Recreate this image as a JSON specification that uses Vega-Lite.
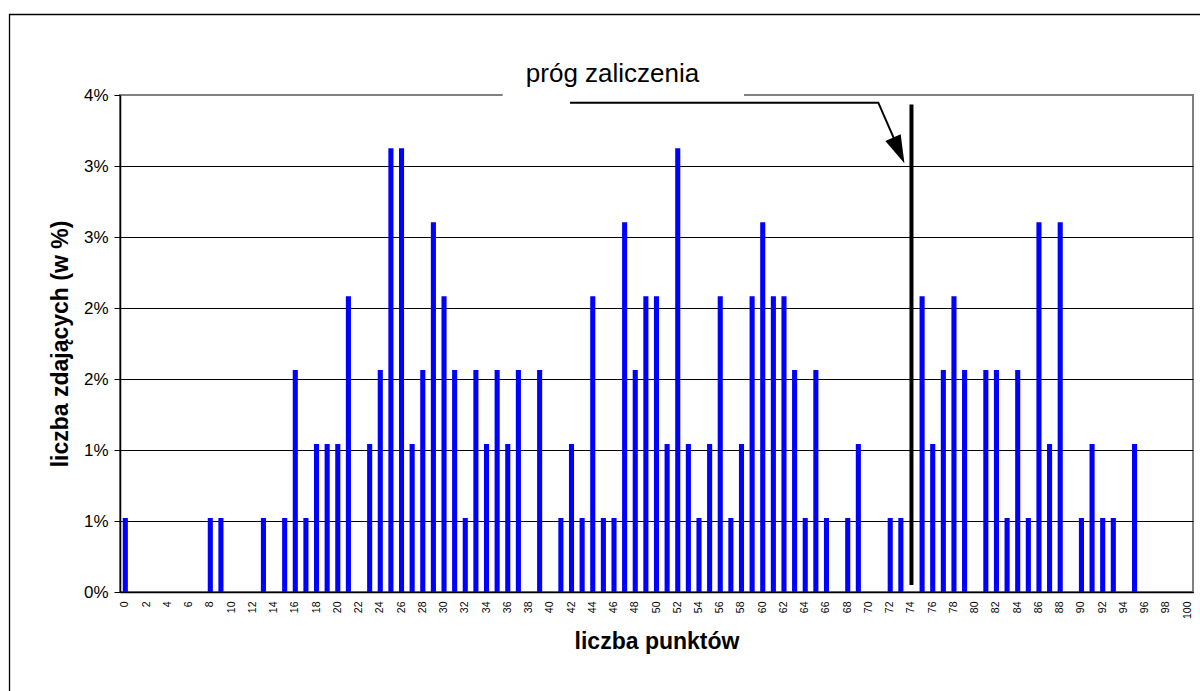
{
  "$schema": "https://vega.github.io/schema/vega-lite/v6.json",
  "width": 1073,
  "height": 497,
  "autosize": {"type": "none"},
  "padding": {"left": 120, "top": 95, "right": 7, "bottom": 99},
  "background": "white",
  "config": {
    "font": "Liberation Sans",
    "view": {"stroke": "#808080", "strokeWidth": 2},
    "axis": {"labelFont": "Liberation Sans", "titleFont": "Liberation Sans", "labelColor": "#000000", "titleColor": "#000000"}
  },
  "datasets": {
    "wyniki": [
      {"punkty": 0, "procent": 0.521}, {"punkty": 1, "procent": 0}, {"punkty": 2, "procent": 0}, {"punkty": 3, "procent": 0},
      {"punkty": 4, "procent": 0}, {"punkty": 5, "procent": 0}, {"punkty": 6, "procent": 0}, {"punkty": 7, "procent": 0},
      {"punkty": 8, "procent": 0.521}, {"punkty": 9, "procent": 0.521}, {"punkty": 10, "procent": 0}, {"punkty": 11, "procent": 0},
      {"punkty": 12, "procent": 0}, {"punkty": 13, "procent": 0.521}, {"punkty": 14, "procent": 0}, {"punkty": 15, "procent": 0.521},
      {"punkty": 16, "procent": 1.563}, {"punkty": 17, "procent": 0.521}, {"punkty": 18, "procent": 1.042}, {"punkty": 19, "procent": 1.042},
      {"punkty": 20, "procent": 1.042}, {"punkty": 21, "procent": 2.083}, {"punkty": 22, "procent": 0}, {"punkty": 23, "procent": 1.042},
      {"punkty": 24, "procent": 1.563}, {"punkty": 25, "procent": 3.125}, {"punkty": 26, "procent": 3.125}, {"punkty": 27, "procent": 1.042},
      {"punkty": 28, "procent": 1.563}, {"punkty": 29, "procent": 2.604}, {"punkty": 30, "procent": 2.083}, {"punkty": 31, "procent": 1.563},
      {"punkty": 32, "procent": 0.521}, {"punkty": 33, "procent": 1.563}, {"punkty": 34, "procent": 1.042}, {"punkty": 35, "procent": 1.563},
      {"punkty": 36, "procent": 1.042}, {"punkty": 37, "procent": 1.563}, {"punkty": 38, "procent": 0}, {"punkty": 39, "procent": 1.563},
      {"punkty": 40, "procent": 0}, {"punkty": 41, "procent": 0.521}, {"punkty": 42, "procent": 1.042}, {"punkty": 43, "procent": 0.521},
      {"punkty": 44, "procent": 2.083}, {"punkty": 45, "procent": 0.521}, {"punkty": 46, "procent": 0.521}, {"punkty": 47, "procent": 2.604},
      {"punkty": 48, "procent": 1.563}, {"punkty": 49, "procent": 2.083}, {"punkty": 50, "procent": 2.083}, {"punkty": 51, "procent": 1.042},
      {"punkty": 52, "procent": 3.125}, {"punkty": 53, "procent": 1.042}, {"punkty": 54, "procent": 0.521}, {"punkty": 55, "procent": 1.042},
      {"punkty": 56, "procent": 2.083}, {"punkty": 57, "procent": 0.521}, {"punkty": 58, "procent": 1.042}, {"punkty": 59, "procent": 2.083},
      {"punkty": 60, "procent": 2.604}, {"punkty": 61, "procent": 2.083}, {"punkty": 62, "procent": 2.083}, {"punkty": 63, "procent": 1.563},
      {"punkty": 64, "procent": 0.521}, {"punkty": 65, "procent": 1.563}, {"punkty": 66, "procent": 0.521}, {"punkty": 67, "procent": 0},
      {"punkty": 68, "procent": 0.521}, {"punkty": 69, "procent": 1.042}, {"punkty": 70, "procent": 0}, {"punkty": 71, "procent": 0},
      {"punkty": 72, "procent": 0.521}, {"punkty": 73, "procent": 0.521}, {"punkty": 74, "procent": 0}, {"punkty": 75, "procent": 2.083},
      {"punkty": 76, "procent": 1.042}, {"punkty": 77, "procent": 1.563}, {"punkty": 78, "procent": 2.083}, {"punkty": 79, "procent": 1.563},
      {"punkty": 80, "procent": 0}, {"punkty": 81, "procent": 1.563}, {"punkty": 82, "procent": 1.563}, {"punkty": 83, "procent": 0.521},
      {"punkty": 84, "procent": 1.563}, {"punkty": 85, "procent": 0.521}, {"punkty": 86, "procent": 2.604}, {"punkty": 87, "procent": 1.042},
      {"punkty": 88, "procent": 2.604}, {"punkty": 89, "procent": 0}, {"punkty": 90, "procent": 0.521}, {"punkty": 91, "procent": 1.042},
      {"punkty": 92, "procent": 0.521}, {"punkty": 93, "procent": 0.521}, {"punkty": 94, "procent": 0}, {"punkty": 95, "procent": 1.042},
      {"punkty": 96, "procent": 0}, {"punkty": 97, "procent": 0}, {"punkty": 98, "procent": 0}, {"punkty": 99, "procent": 0},
      {"punkty": 100, "procent": 0}
    ],
    "prog": [{"punkty": 74, "procent": 0.05, "do": 3.433}],
    "ramka": [{"x": -10.9, "x2": 103, "procent": -0.9, "y2": 4.067}],
    "tlo": [{"x": 35.52, "x2": 58.24, "procent": 3.48, "y2": 3.75}],
    "napis": [{"x": 45.86, "procent": 3.594, "tekst": "próg zaliczenia"}],
    "linia": [
      {"x": 41.86, "procent": 3.446, "kolejnosc": 1},
      {"x": 70.88, "procent": 3.446, "kolejnosc": 2},
      {"x": 72.9, "procent": 3.1, "kolejnosc": 3}
    ],
    "grot": [{"x": 72.8, "procent": 3.11}]
  },
  "layer": [
    {
      "layer": [
        {
          "data": {"name": "wyniki"},
          "mark": {"type": "bar", "color": "#0000FF"},
          "encoding": {
            "x": {
              "field": "punkty", "type": "ordinal",
              "scale": {"paddingInner": 0.52, "paddingOuter": 0.26},
              "axis": {
                "orient": "bottom",
                "values": [0,2,4,6,8,10,12,14,16,18,20,22,24,26,28,30,32,34,36,38,40,42,44,46,48,50,52,54,56,58,60,62,64,66,68,70,72,74,76,78,80,82,84,86,88,90,92,94,96,98,100],
                "labelAngle": 270,
                "labelFontSize": 10.5,
                "labelPadding": 9,
                "ticks": false,
                "tickSize": 0,
                "domainColor": "#000000",
                "domainWidth": 1.5,
                "grid": false,
                "title": "liczba punktów",
                "titleFontSize": 23,
                "titleFontWeight": "bold",
                "titlePadding": 12
              }
            },
            "y": {
              "field": "procent", "type": "quantitative",
              "scale": {"domain": [0, 3.5], "nice": false, "zero": true},
              "axis": {
                "values": [0, 0.5, 1, 1.5, 2, 2.5, 3, 3.5],
                "labelExpr": "round(datum.value + 0.01) + '%'",
                "labelFontSize": 17,
                "labelPadding": 6,
                "tickSize": 6,
                "tickColor": "#000000",
                "domainColor": "#000000",
                "domainWidth": 1.5,
                "grid": true,
                "gridColor": {"condition": {"test": "datum.value > 3.4", "value": "#808080"}, "value": "#000000"},
                "gridWidth": 1,
                "title": "liczba zdających (w %)",
                "titleFontSize": 23,
                "titleFontWeight": "bold",
                "titlePadding": 11
              }
            }
          }
        },
        {
          "data": {"name": "prog"},
          "mark": {"type": "rule", "color": "#000000", "strokeWidth": 4},
          "encoding": {
            "x": {"field": "punkty", "type": "ordinal"},
            "y": {"field": "procent", "type": "quantitative"},
            "y2": {"field": "do"}
          }
        }
      ]
    },
    {
      "layer": [
        {
          "data": {"name": "ramka"},
          "mark": {"type": "rect", "fillOpacity": 0, "stroke": "#000000", "strokeWidth": 1.3, "clip": false},
          "encoding": {
            "x": {"field": "x", "type": "quantitative", "scale": {"domain": [-0.5, 100.5], "nice": false, "zero": false}, "axis": null},
            "x2": {"field": "x2"},
            "y": {"field": "procent", "type": "quantitative"},
            "y2": {"field": "y2"}
          }
        },
        {
          "data": {"name": "tlo"},
          "mark": {"type": "rect", "fill": "#FFFFFF", "clip": false},
          "encoding": {
            "x": {"field": "x", "type": "quantitative", "axis": null},
            "x2": {"field": "x2"},
            "y": {"field": "procent", "type": "quantitative"},
            "y2": {"field": "y2"}
          }
        },
        {
          "data": {"name": "napis"},
          "mark": {"type": "text", "font": "Liberation Sans", "fontSize": 26, "align": "center", "baseline": "alphabetic", "color": "#000000", "clip": false},
          "encoding": {
            "x": {"field": "x", "type": "quantitative", "axis": null},
            "y": {"field": "procent", "type": "quantitative"},
            "text": {"field": "tekst"}
          }
        },
        {
          "data": {"name": "linia"},
          "mark": {"type": "line", "color": "#000000", "strokeWidth": 2, "strokeCap": "butt", "clip": false},
          "encoding": {
            "x": {"field": "x", "type": "quantitative", "axis": null},
            "y": {"field": "procent", "type": "quantitative"},
            "order": {"field": "kolejnosc"}
          }
        },
        {
          "data": {"name": "grot"},
          "mark": {"type": "point", "shape": "M -0.6 -1 L 0.6 -1 L 0 1 Z", "size": 784, "angle": 336, "filled": true, "color": "#000000", "opacity": 1, "clip": false},
          "encoding": {
            "x": {"field": "x", "type": "quantitative", "axis": null},
            "y": {"field": "procent", "type": "quantitative"}
          }
        }
      ]
    }
  ],
  "resolve": {"scale": {"x": "independent"}}
}
